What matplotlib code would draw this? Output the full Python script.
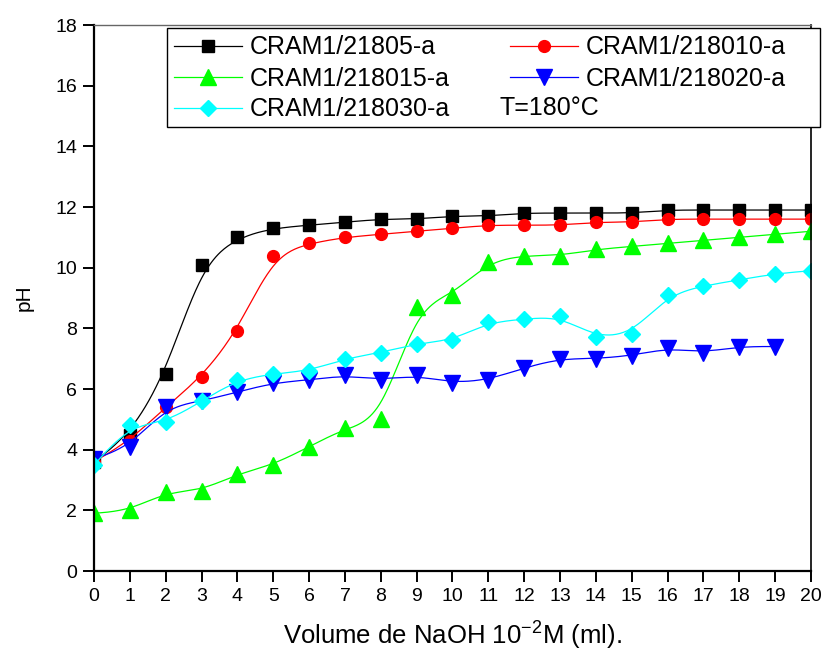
import numpy as np
import matplotlib
matplotlib.use("Agg")
import matplotlib.pyplot as plt
from matplotlib.patches import Rectangle

# volume NaOH (ml)
vol = list(range(21))
vol_20 = list(range(20))

ph_805 = [3.6, 4.5, 6.5, 10.1, 11.0, 11.3, 11.4, 11.5, 11.6, 11.6, 11.7,
          11.7, 11.8, 11.8, 11.8, 11.8, 11.9, 11.9, 11.9, 11.9, 11.9]
ph_810 = [3.6, 4.3, 5.4, 6.4, 7.9, 10.4, 10.8, 11.0, 11.1, 11.2, 11.3,
          11.4, 11.4, 11.4, 11.5, 11.5, 11.6, 11.6, 11.6, 11.6, 11.6]
ph_815 = [1.9, 2.0, 2.6, 2.65, 3.2, 3.5, 4.1, 4.7, 5.0, 8.7, 9.1,
          10.2, 10.4, 10.4, 10.6, 10.7, 10.8, 10.9, 11.0, 11.1, 11.2]
ph_820 = [3.7, 4.1, 5.4, 5.6, 5.9, 6.2, 6.3, 6.45, 6.3, 6.45, 6.2,
          6.3, 6.7, 7.0, 7.0, 7.1, 7.35, 7.2, 7.4, 7.4]
ph_830 = [3.5, 4.8, 4.9, 5.6, 6.3, 6.5, 6.6, 7.0, 7.2, 7.5, 7.6,
          8.2, 8.3, 8.4, 7.7, 7.8, 9.1, 9.4, 9.6, 9.8, 9.9]

labels = ["CRAM1/21805-a", "CRAM1/218010-a", "CRAM1/218015-a",
          "CRAM1/218020-a", "CRAM1/218030-a"]


def bspline(x, y, n=30):
    # uniform cubic B-spline (Origin "B-Spline" connection), clamped ends
    px = np.r_[x[0], x[0], x, x[-1], x[-1]].astype(float)
    py = np.r_[y[0], y[0], y, y[-1], y[-1]].astype(float)
    t = np.linspace(0, 1, n, endpoint=False)
    b0 = (1 - t) ** 3 / 6
    b1 = (3 * t ** 3 - 6 * t ** 2 + 4) / 6
    b2 = (-3 * t ** 3 + 3 * t ** 2 + 3 * t + 1) / 6
    b3 = t ** 3 / 6
    xs, ys = [], []
    for i in range(len(px) - 3):
        xs.append(b0 * px[i] + b1 * px[i + 1] + b2 * px[i + 2] + b3 * px[i + 3])
        ys.append(b0 * py[i] + b1 * py[i + 1] + b2 * py[i + 2] + b3 * py[i + 3])
    xs.append([x[-1]])
    ys.append([y[-1]])
    return np.concatenate(xs), np.concatenate(ys)


plt.rcParams['font.family'] = ['Liberation Sans', 'DejaVu Sans']

W, H = 828, 654
fig = plt.figure(figsize=(W / 100, H / 100), dpi=100)
ax = fig.add_axes([94 / W, 1 - 571 / H, 717 / W, 546 / H])

series = [
    (vol, ph_805, 'black', 's', 8),
    (vol, ph_810, 'red', 'o', 8.5),
    (vol, ph_815, '#00ff00', '^', 11),
    (vol_20, ph_820, 'blue', 'v', 11),
    (vol, ph_830, '#00ffff', 'D', 8.5),
]

handles = []
for (x, y, c, m, ms), lab in zip(series, labels):
    sx, sy = bspline(x, y)
    ax.plot(sx, sy, color=c, lw=0.9)
    ax.plot(x, y, ls='none', marker=m, color=c, ms=ms, mec=c)
    h, = ax.plot([], [], color=c, lw=0.9, marker=m, ms=ms, mec=c, label=lab)
    handles.append(h)

ax.set_xlim(0, 20)
ax.set_ylim(0, 18)
ax.set_xticks(range(0, 21))
ax.set_yticks(range(0, 19, 2))
ax.tick_params(direction='out', length=8, width=1.4, labelsize=14,
               top=False, right=False, pad=4)
ax.spines['left'].set_linewidth(1.6)
ax.spines['bottom'].set_linewidth(1.6)
ax.spines['top'].set_linewidth(1.0)
ax.spines['top'].set_color('#666666')
ax.spines['right'].set_linewidth(1.2)

ax.set_xlabel("Volume de NaOH 10$^{\\mathregular{-2}}$M (ml).", fontsize=18.5,
              labelpad=10)
ax.set_ylabel("pH", fontsize=15, labelpad=16)

# legend, columns filled top-down
order = [handles[0], handles[2], handles[4], handles[1], handles[3]]
leg = fig.legend(handles=order, labels=[h.get_label() for h in order],
                 ncol=2, loc='upper left',
                 bbox_to_anchor=(167 / W, 1 - 28 / H),
                 borderaxespad=0, fontsize=18,
                 handlelength=2.7, handletextpad=0.32, columnspacing=2.4,
                 labelspacing=0.28, borderpad=0.3, frameon=False)
leg.set_zorder(6)
fig.patches.append(Rectangle((167 / W, 1 - 127 / H), 653 / W, 99 / H,
                             transform=fig.transFigure, fill=True,
                             facecolor='white', edgecolor='black', lw=1.0,
                             zorder=5))
fig.text(500 / W, 1 - 108 / H, "T=180°C", fontsize=18, va='center', zorder=7)

fig.savefig("out.png", dpi=100)
